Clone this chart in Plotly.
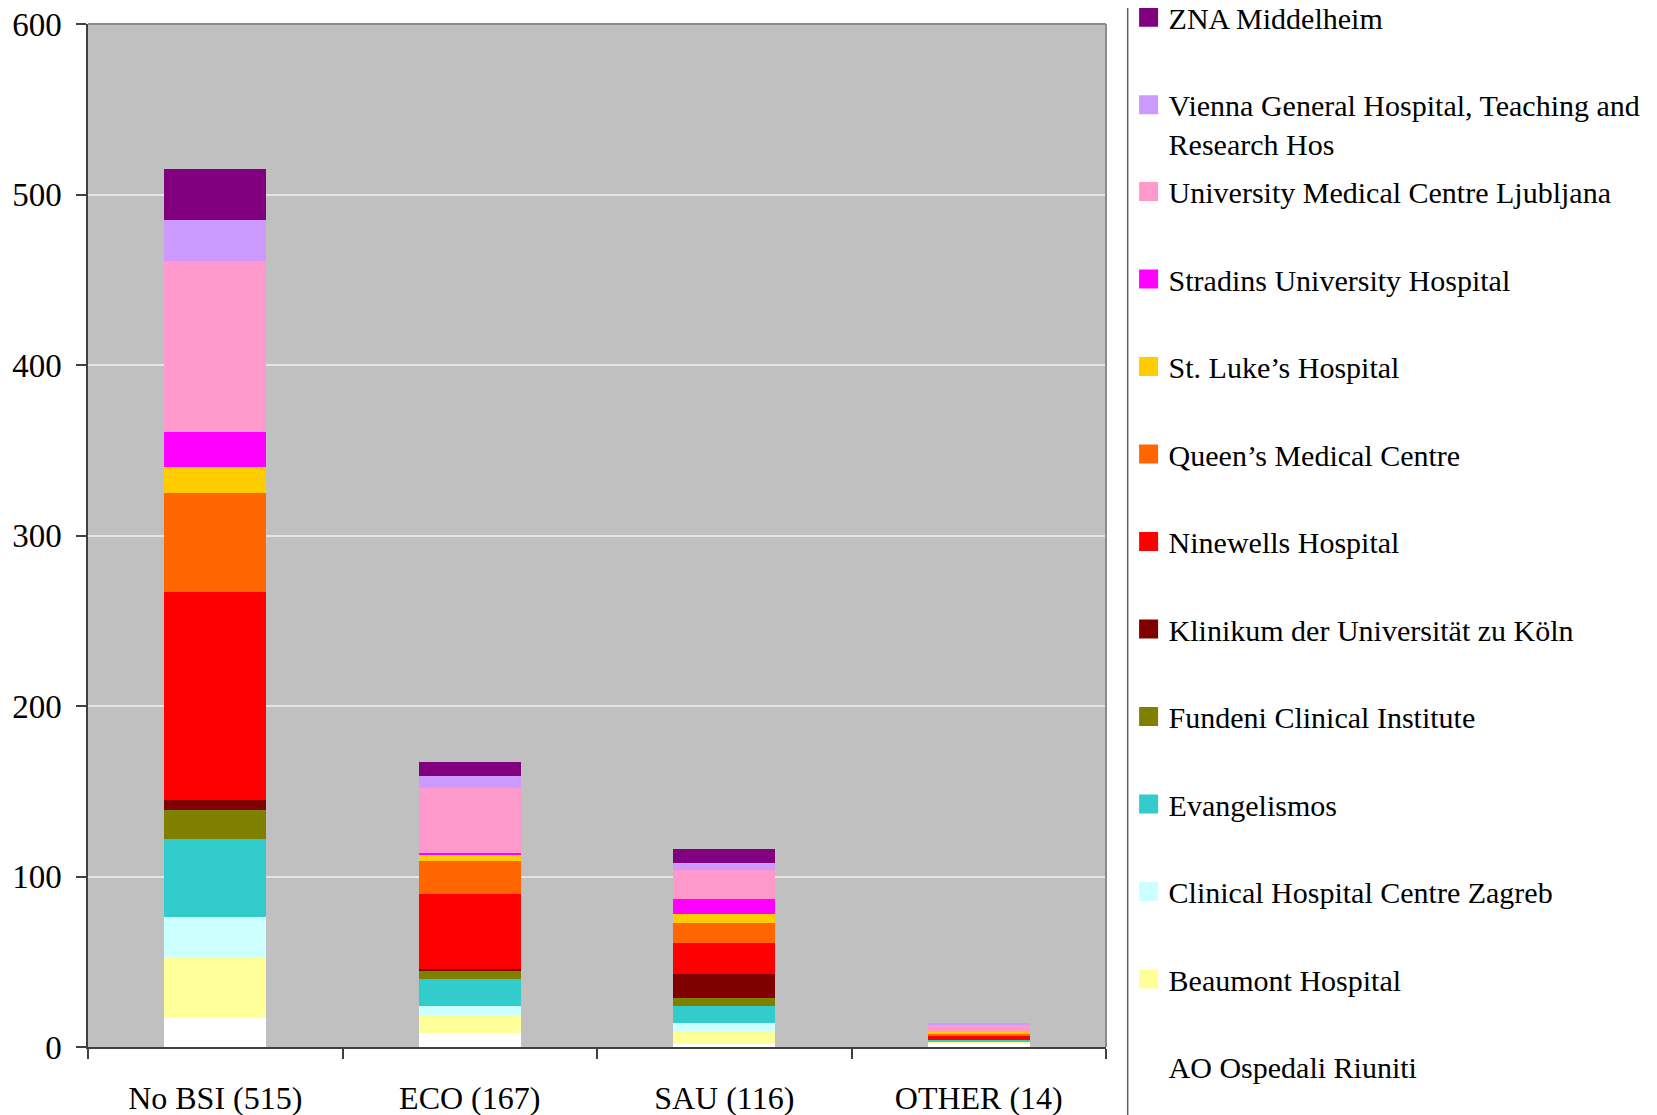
import plotly.graph_objects as go

# ---------------- data ----------------
categories = ["No BSI (515)", "ECO (167)", "SAU (116)", "OTHER (14)"]

# series listed bottom-of-stack first
ao_ospedali_riuniti = [17, 8, 2, 2]
beaumont_hospital = [36, 10, 7, 1]
clinical_hospital_centre_zagreb = [23, 6, 5, 0]
evangelismos = [46, 16, 10, 1]
fundeni_clinical_institute = [17, 5, 5, 0]
klinikum_koeln = [6, 1, 14, 0]
ninewells_hospital = [122, 44, 18, 3]
queens_medical_centre = [58, 19, 12, 1]
st_lukes_hospital = [15, 4, 5, 1]
stradins_university_hospital = [21, 1, 9, 0]
university_medical_centre_ljubljana = [100, 38, 17, 4]
vienna_general_hospital = [24, 7, 4, 1]
zna_middelheim = [30, 8, 8, 0]

series_names = [
    "AO Ospedali Riuniti",
    "Beaumont Hospital",
    "Clinical Hospital Centre Zagreb",
    "Evangelismos",
    "Fundeni Clinical Institute",
    "Klinikum der Universität zu Köln",
    "Ninewells Hospital",
    "Queen’s Medical Centre",
    "St. Luke’s Hospital",
    "Stradins University Hospital",
    "University Medical Centre Ljubljana",
    "Vienna General Hospital, Teaching and<br>Research Hos",
    "ZNA Middelheim",
]
series_values = [
    ao_ospedali_riuniti,
    beaumont_hospital,
    clinical_hospital_centre_zagreb,
    evangelismos,
    fundeni_clinical_institute,
    klinikum_koeln,
    ninewells_hospital,
    queens_medical_centre,
    st_lukes_hospital,
    stradins_university_hospital,
    university_medical_centre_ljubljana,
    vienna_general_hospital,
    zna_middelheim,
]
series_colors = [
    "#FFFFFF", "#FFFF99", "#CCFFFF", "#33CCCC", "#808000", "#800000",
    "#FF0000", "#FF6600", "#FFCC00", "#FF00FF", "#FF99CC", "#CC99FF", "#800080",
]

y_ticks = [0, 100, 200, 300, 400, 500, 600]

FONT = "Liberation Serif"

fig = go.Figure()

# stacked bars
for name, vals, col in zip(series_names, series_values, series_colors):
    fig.add_trace(go.Bar(
        x=categories, y=vals, name=name, marker=dict(color=col, line=dict(width=0)),
        legendgroup=name, showlegend=False,
    ))

# legend entries (top to bottom), with larger square swatches
top_two = series_names[-2:]
for name, col in zip(series_names[::-1], series_colors[::-1]):
    fig.add_trace(go.Scatter(
        x=[None], y=[None], mode="markers", name=name, legendgroup=name,
        marker=dict(symbol="square", size=16, color=col, line=dict(color=col, width=3)),
        legend="legend" if name in top_two else "legend2",
        showlegend=True,
    ))

legend_common = dict(
    xanchor="left", yanchor="top", x=1.0222,
    bgcolor="rgba(0,0,0,0)", borderwidth=0,
    font=dict(family=FONT, size=30, color="black"),
    tracegroupgap=45.5, valign="top", traceorder="grouped",
    itemsizing="trace",
)

# page body has an 8px margin, so the figure is sized/offset to compensate
fig.update_layout(
    width=1649, height=1107,
    margin=dict(l=80, r=551, t=16, b=68, autoexpand=False),
    barmode="stack", bargap=0.6,
    plot_bgcolor="#C0C0C0", paper_bgcolor="white",
    font=dict(family=FONT, size=30, color="black"),
    legend=dict(y=1.032, **legend_common),
    legend2=dict(y=0.8617, **legend_common),
    xaxis=dict(
        type="category", showline=True, linecolor="#404040", linewidth=2,
        ticks="outside", tickson="boundaries", ticklen=10, tickcolor="#404040",
        tickwidth=1.5, ticklabelstandoff=22, showgrid=False, automargin=False,
        ticklabeloverflow="allow",
        tickfont=dict(family=FONT, size=32, color="black"),
    ),
    yaxis=dict(
        range=[0, 600], tickvals=y_ticks, showgrid=True, gridcolor="#E4E4E4",
        gridwidth=1.5, showline=True, linecolor="#404040", linewidth=1.5,
        ticks="outside", ticklen=10, tickcolor="#404040", tickwidth=1.5,
        ticklabelstandoff=8, zeroline=False, automargin=False,
        ticklabeloverflow="allow",
        tickfont=dict(family=FONT, size=33, color="black"),
    ),
    shapes=[
        # plot-area frame (top & right)
        dict(type="line", xref="paper", yref="paper", x0=0, x1=1, y0=1, y1=1,
             line=dict(color="#8C8C8C", width=2), layer="above"),
        dict(type="line", xref="paper", yref="paper", x0=1, x1=1, y0=0, y1=1,
             line=dict(color="#8C8C8C", width=2), layer="above"),
        # legend frame
        dict(type="rect", xref="paper", yref="paper", x0=1.0213, x1=1.5383,
             y0=-0.2, y1=1.2, line=dict(color="#606060", width=1.5)),
    ],
    showlegend=True,
)

fig.write_html("out.html")
